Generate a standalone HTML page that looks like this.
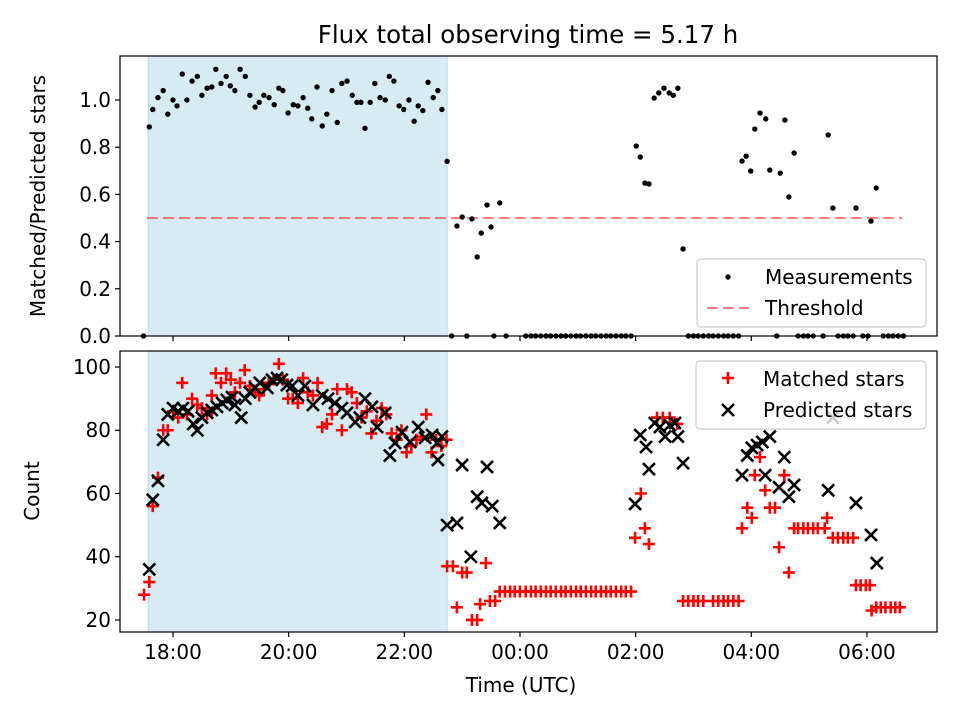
<!DOCTYPE html>
<html><head><meta charset="utf-8"><style>
html,body{margin:0;padding:0;background:#fff}
svg{display:block;font-family:"DejaVu Sans","Liberation Sans",sans-serif}
</style></head><body>
<svg id="fig" width="960" height="720" viewBox="0 0 960 720"></svg>
<script>
const measTimes=[17.59,17.65,17.74,17.83,17.91,18.00,18.07,18.16,18.24,18.33,18.42,18.50,18.59,18.67,18.74,18.83,18.92,18.99,19.07,19.16,19.25,19.33,19.42,19.49,19.57,19.66,19.75,19.83,19.90,19.99,20.08,20.16,20.25,20.33,20.40,20.49,20.58,20.66,20.75,20.84,20.92,21.01,21.10,21.18,21.25,21.32,21.41,21.49,21.58,21.67,21.74,21.82,21.91,21.99,22.08,22.17,22.24,22.32,22.41,22.50,22.58,22.65,22.74,22.91,23.00,23.17,23.26,23.33,23.43,23.50,23.65,26.01,26.08,26.16,26.23,26.32,26.40,26.49,26.58,26.65,26.73,26.82,27.84,27.91,27.99,28.06,28.15,28.25,28.32,28.50,28.58,28.65,28.74,29.33,29.41,29.81,30.07,30.16];
const measValues=[0.886,0.96,1.01,1.04,0.94,1.0,0.975,1.11,1.0,1.08,1.10,1.02,1.05,1.055,1.13,1.07,1.10,1.06,1.04,1.13,1.10,1.02,0.97,0.99,1.02,1.01,0.98,1.05,1.04,0.945,0.98,0.975,1.01,0.965,0.92,1.055,0.89,0.94,1.04,0.905,1.07,1.08,1.02,0.99,0.99,0.88,0.99,1.07,1.01,1.0,1.10,1.08,0.975,0.96,1.0,0.91,0.975,0.955,1.075,1.01,1.04,0.96,0.74,0.466,0.504,0.496,0.335,0.436,0.555,0.462,0.564,0.805,0.758,0.648,0.644,1.008,1.03,1.05,1.03,1.02,1.05,0.369,0.741,0.762,0.699,0.877,0.945,0.92,0.703,0.69,0.915,0.589,0.775,0.852,0.542,0.542,0.487,0.627];
const zeroTimes=[17.49,22.82,23.08,23.55,23.76,24.10,24.19,24.27,24.36,24.45,24.53,24.62,24.71,24.79,24.88,24.97,25.05,25.14,25.23,25.31,25.40,25.49,25.57,25.66,25.75,25.83,25.92,26.91,27.00,27.08,27.17,27.26,27.34,27.43,27.52,27.60,27.69,27.78,28.44,28.81,28.90,28.98,29.07,29.24,29.50,29.59,29.67,29.76,29.93,30.02,30.28,30.37,30.45,30.54,30.63];
const matchedTimes=[17.50,17.59,17.65,17.74,17.83,17.91,18.00,18.09,18.16,18.24,18.33,18.42,18.50,18.59,18.67,18.74,18.83,18.92,19.00,19.07,19.16,19.24,19.33,19.42,19.49,19.57,19.66,19.74,19.83,19.90,19.99,20.07,20.16,20.25,20.33,20.42,20.50,20.58,20.66,20.75,20.84,20.92,21.01,21.09,21.18,21.26,21.35,21.43,21.52,21.61,21.69,21.78,21.87,21.95,22.04,22.12,22.21,22.30,22.38,22.47,22.55,22.64,22.73,22.74,22.84,22.91,23.00,23.08,23.17,23.26,23.31,23.41,23.48,23.57,23.65,23.74,23.83,23.91,24.00,24.10,24.19,24.27,24.36,24.45,24.53,24.62,24.71,24.79,24.88,24.97,25.05,25.14,25.23,25.31,25.40,25.49,25.57,25.66,25.75,25.83,25.92,25.99,26.09,26.16,26.23,26.37,26.47,26.59,26.72,26.82,26.91,27.00,27.08,27.17,27.34,27.43,27.52,27.60,27.69,27.78,27.84,27.93,28.01,28.06,28.15,28.24,28.32,28.41,28.48,28.57,28.65,28.74,28.81,28.90,28.98,29.07,29.15,29.27,29.31,29.41,29.50,29.59,29.67,29.76,29.81,29.89,29.98,30.05,30.08,30.16,30.24,30.32,30.41,30.49,30.57];
const matchedValues=[28,32,56,65,80,80,86,84,95,85,90,88,87,85,91,98,95,98,96,92,95,99,94,92,91,93,95,96,101,96,90,90,88.6,96.5,92,91,95,81,82,85,93,80,93,92,88.6,84,86,79,83,87,85,79,77,80,73,75,77,78,85,73,77,75,77,37,37,24,35,35,20,20,25,38,26,26,29,29,29,29,29,29,29,29,29,29,29,29,29,29,29,29,29,29,29,29,29,29,29,29,29,29,29,46,60,49,44,84,84,84,82,26,26,26,26,26,26,26,26,26,26,26,49,55.5,52.3,65.8,71.5,61,55.5,55.5,43,65.8,35,49,49,49,49,49,49,49,52.3,46,46,46,46,46,31,31,31,31,23,24,24,24,24,24,24];
const predTimes=[17.59,17.65,17.74,17.83,17.91,18.00,18.09,18.17,18.26,18.35,18.42,18.50,18.59,18.67,18.76,18.85,18.93,19.02,19.07,19.18,19.25,19.33,19.42,19.50,19.63,19.71,19.80,19.88,19.97,20.06,20.16,20.28,20.42,20.58,20.68,20.80,20.92,21.01,21.15,21.23,21.32,21.44,21.53,21.67,21.75,21.84,21.96,22.10,22.24,22.36,22.48,22.57,22.58,22.65,22.74,22.91,23.00,23.15,23.26,23.34,23.43,23.52,23.65,25.99,26.08,26.18,26.23,26.33,26.42,26.51,26.59,26.68,26.73,26.82,27.84,27.93,28.01,28.10,28.19,28.24,28.32,28.48,28.57,28.65,28.74,29.33,29.41,29.81,30.07,30.17];
const predValues=[36,58,64,77,85,87,86,87,86,82,80,84,85.5,86.4,87.4,88.6,89.6,90.5,88,84,90,92,93.4,95,93.4,96,96.5,96,94.3,94,91,94,88,91,90,88.6,87,85.5,82.6,84,90,87.4,81,85.5,72,76,79.4,76.3,81,77.6,78.5,76,70.6,78,50,50.7,69,40,59,57,68.4,56,50.7,56.7,78.5,74.7,67.7,82.3,81,78,81.6,82.3,78,69.6,65.8,72,74.4,75.3,76.3,65.8,78,62,71.5,59,62.7,61,84,57,46.9,38];
const topTicks=[0,0.2,0.4,0.6,0.8,1.0];
const topTickLabels=["0.0","0.2","0.4","0.6","0.8","1.0"];
const botTicks=[20,40,60,80,100];
const xTicks=[18,20,22,24,26,28,30];
const xTickLabels=["18:00","20:00","22:00","00:00","02:00","04:00","06:00"];
const spanStart=17.57, spanEnd=22.74, threshold=0.5, threshStart=17.55, threshEnd=30.61;

const NS="http://www.w3.org/2000/svg";
const svg=document.getElementById('fig');
const L=120,R=937,T1=56,B1=336,T2=351,B2=632;
const xMin=17.0835,xMax=31.211;
function X(t){return L+(t-xMin)/(xMax-xMin)*(R-L);}
function Y1(v){return B1-(v-0)/(1.1864)*(B1-T1);}
const c0=16.2,c1=105.06;
function Y2(v){return B2-(v-c0)/(c1-c0)*(B2-T2);}
function mk(tag,attrs,parent){const e=document.createElementNS(NS,tag);for(const k in attrs)e.setAttribute(k,attrs[k]);(parent||svg).appendChild(e);return e;}
function txt(s,x,y,attrs,parent){const e=mk('text',Object.assign({x:x,y:y,fill:'#000','font-size':20},attrs),parent);e.textContent=s;return e;}

const title=txt("Flux total observing time = 5.17 h",528,43,{'text-anchor':'middle','font-size':24.5});



function panel(T,B,name){
  const g=mk('g',{});
  
  
  const sp=mk('rect',{x:X(spanStart),y:T,width:X(spanEnd)-X(spanStart),height:B-T,fill:'rgba(173,216,230,0.5)',stroke:'rgba(150,200,220,0.6)','stroke-width':1},g);
  
  
  return g;
}
const gTop=panel(T1,B1,'top-panel');
const gBot=panel(T2,B2,'bottom-panel');

const th=mk('line',{x1:X(threshStart),x2:X(threshEnd),y1:Y1(threshold),y2:Y1(threshold),stroke:'rgba(255,0,0,0.5)','stroke-width':2,'stroke-dasharray':'11,5'},gTop);



measTimes.forEach((t,i)=>{
  const c=mk('circle',{cx:X(t),cy:Y1(measValues[i]),r:2.7,fill:'#000'},gTop);
  
  
});
zeroTimes.forEach(t=>{
  const c=mk('circle',{cx:X(t),cy:Y1(0),r:2.7,fill:'#000'},gTop);
  
  
});

function plus(x,y,parent,col){return mk('path',{d:`M${x-6},${y}H${x+6}M${x},${y-6}V${y+6}`,stroke:col,'stroke-width':2.6,fill:'none'},parent);}
function cross(x,y,parent,col){return mk('path',{d:`M${x-6},${y-6}L${x+6},${y+6}M${x-6},${y+6}L${x+6},${y-6}`,stroke:col,'stroke-width':2.6,fill:'none'},parent);}
matchedTimes.forEach((t,i)=>{
  const p=plus(X(t),Y2(matchedValues[i]),gBot,'#f00');
  
  
});
predTimes.forEach((t,i)=>{
  const p=cross(X(t),Y2(predValues[i]),gBot,'#000');
  
  
});

[[T1,B1,'top-axes-frame'],[T2,B2,'bottom-axes-frame']].forEach(a=>{
  const r=mk('rect',{x:L,y:a[0],width:R-L,height:a[1]-a[0],fill:'none',stroke:'#000','stroke-width':1.2});
  
  
});
topTicks.forEach((v,i)=>{
  const y=Y1(v);
  const tk=mk('line',{x1:L-5,x2:L,y1:y,y2:y,stroke:'#000','stroke-width':1.2});
  
  
  const lb=txt(topTickLabels[i],L-9,y+7,{'text-anchor':'end'});
  
  
});
botTicks.forEach(v=>{
  const y=Y2(v);
  const tk=mk('line',{x1:L-5,x2:L,y1:y,y2:y,stroke:'#000','stroke-width':1.2});
  
  
  const lb=txt(String(v),L-9,y+7,{'text-anchor':'end'});
  
  
});
xTicks.forEach((t,i)=>{
  const x=X(t);
  const a=mk('line',{x1:x,x2:x,y1:B1,y2:B1+5,stroke:'#000','stroke-width':1.2});
  
  
  const b=mk('line',{x1:x,x2:x,y1:B2,y2:B2+5,stroke:'#000','stroke-width':1.2});
  
  
  const lb=txt(xTickLabels[i],x,B2+27,{'text-anchor':'middle'});
  
  
});
const yl1=txt("Matched/Predicted stars",0,0,{'text-anchor':'middle',transform:'translate(45,196) rotate(-90)'});


const yl2=txt("Count",0,0,{'text-anchor':'middle',transform:'translate(39,491) rotate(-90)'});


const xl=txt("Time (UTC)",521,692,{'text-anchor':'middle'});



const lg1=mk('g',{});


mk('rect',{x:697,y:259,width:229,height:68,rx:4,fill:'rgba(255,255,255,0.8)',stroke:'#ccc','stroke-width':1.2},lg1);
const le1=mk('circle',{cx:728,cy:277,r:2.7,fill:'#000'},lg1);


const lt1=txt("Measurements",765,284,{},lg1);


const le2=mk('line',{x1:707,x2:749,y1:308,y2:308,stroke:'rgba(255,0,0,0.5)','stroke-width':2,'stroke-dasharray':'11,5'},lg1);


const lt2=txt("Threshold",765,315,{},lg1);



const lg2=mk('g',{});


mk('rect',{x:696,y:361,width:230,height:68,rx:4,fill:'rgba(255,255,255,0.8)',stroke:'#ccc','stroke-width':1.2},lg2);
const m1=plus(728,378,lg2,'#f00');


const lt3=txt("Matched stars",763,386,{},lg2);


const m2=cross(728,410,lg2,'#000');


const lt4=txt("Predicted stars",763,417,{},lg2);


</script>
</body></html>
